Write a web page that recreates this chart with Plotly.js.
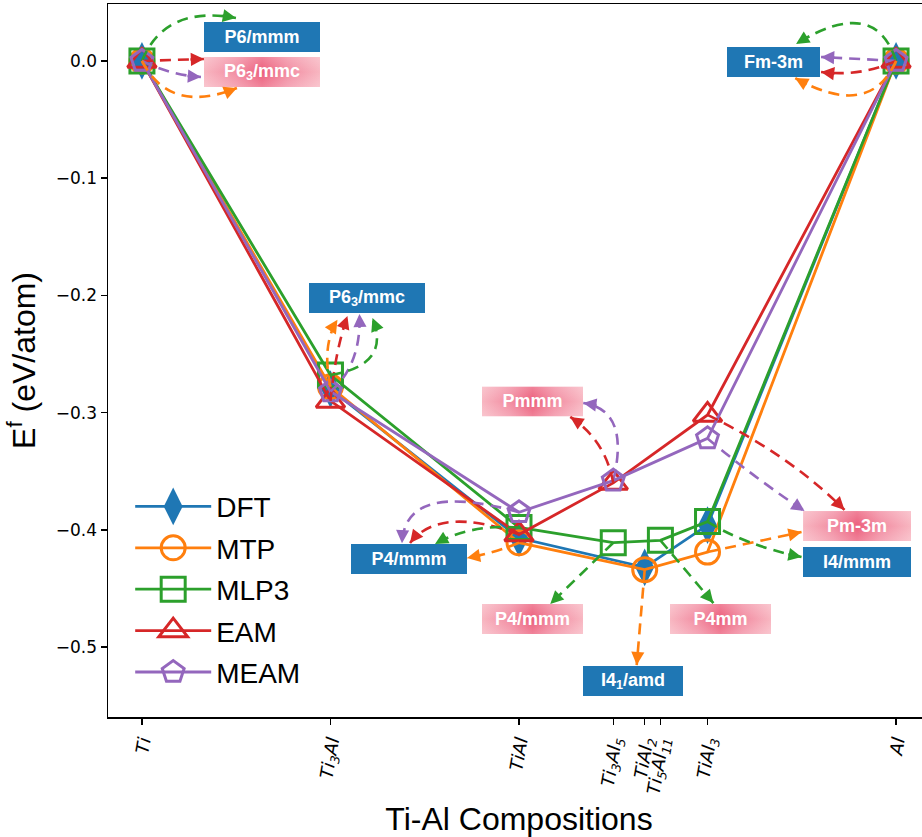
<!DOCTYPE html>
<html>
<head>
<meta charset="utf-8">
<script src="https://cdn.plot.ly/plotly-3.0.1.min.js"></script>
<style>html,body{margin:0;padding:0;overflow:hidden;background:#fff}</style>
</head>
<body>
<div id="chart"></div>
<script>
// Ti-Al phases, placed on the axis by their Al atomic fraction
const compNames = ['Ti', 'Ti3Al', 'TiAl', 'Ti3Al5', 'TiAl2', 'Ti5Al11', 'TiAl3', 'Al'];
const compFrac  = [0, 0.25, 0.5, 0.625, 0.6667, 0.6875, 0.75, 1];
const compTicks = ['<i>Ti</i>', '<i>Ti<sub>3</sub>Al</i>', '<i>TiAl</i>', '<i>Ti<sub>3</sub>Al<sub>5</sub></i>',
                   '<i>TiAl<sub>2</sub></i>', '<i>Ti<sub>5</sub>Al<sub>11</sub></i>', '<i>TiAl<sub>3</sub></i>', '<i>Al</i>'];

// Formation energies (eV/atom) of each method
const dftPhases  = ['Ti', 'Ti3Al', 'TiAl', 'TiAl2', 'TiAl3', 'Al'];
const dftEnergy  = [0, -0.280, -0.407, -0.432, -0.396, 0];
const mtpPhases  = ['Ti', 'Ti3Al', 'TiAl', 'TiAl2', 'TiAl3', 'Al'];
const mtpEnergy  = [0, -0.278, -0.411, -0.434, -0.419, 0];
const mlp3Phases = ['Ti', 'Ti3Al', 'TiAl', 'Ti3Al5', 'Ti5Al11', 'TiAl3', 'Al'];
const mlp3Energy = [0, -0.268, -0.398, -0.411, -0.409, -0.393, 0];
const eamPhases  = ['Ti', 'Ti3Al', 'TiAl', 'Ti3Al5', 'TiAl3', 'Al'];
const eamEnergy  = [0, -0.290, -0.404, -0.360, -0.302, 0];
const meamPhases = ['Ti', 'Ti3Al', 'TiAl', 'Ti3Al5', 'TiAl3', 'Al'];
const meamEnergy = [0, -0.282, -0.385, -0.358, -0.322, 0];

// Space-group labels
const sgText  = ['P6/mmm', 'P6<sub>3</sub>/mmc', 'Fm-3m', 'P6<sub>3</sub>/mmc', 'P4/mmm', 'Pmmm',
                 'P4/mmm', 'P4mm', 'I4<sub>1</sub>/amd', 'Pm-3m', 'I4/mmm'];
const sgX     = [0.1592, 0.1592, 0.8375, 0.2984, 0.3541, 0.5179, 0.5179, 0.7672, 0.6512, 0.9483, 0.9483];
const sgY     = [0.0205, -0.0094, -0.0009, -0.2022, -0.4253, -0.2905, -0.4761, -0.4761, -0.5294, -0.3968, -0.4275];
const sgStyle = ['blue', 'pink', 'blue', 'blue', 'blue', 'pink', 'pink', 'pink', 'blue', 'pink', 'blue'];
const sgWidth = [116, 116, 93, 116, 116, 101, 101, 101, 100, 108, 108];

// Dashed arrows from a method's point to its predicted structure (pixel offsets from the point)
const arrows = [
  {m: 'MLP3', at: 'Ti', tip: [94, -43], ctrl: [23, -56]},
  {m: 'EAM',  at: 'Ti', tip: [62, -2]},
  {m: 'MEAM', at: 'Ti', tip: [59, 16], ctrl: [28, 14]},
  {m: 'MTP',  at: 'Ti', tip: [95, 27], ctrl: [28, 54]},
  {m: 'MLP3', at: 'Al', tip: [-100, -17], ctrl: [-21, -66]},
  {m: 'MEAM', at: 'Al', tip: [-75, -4]},
  {m: 'EAM',  at: 'Al', tip: [-75, 11], ctrl: [-36, 16]},
  {m: 'MTP',  at: 'Al', tip: [-101, 17], ctrl: [-26, 59]},
  {m: 'MTP',  at: 'Ti3Al', tip: [7, -67], ctrl: [-9, -42]},
  {m: 'EAM',  at: 'Ti3Al', tip: [17, -85], ctrl: [5, -51]},
  {m: 'MEAM', at: 'Ti3Al', tip: [29, -77.5], ctrl: [31, -26.5]},
  {m: 'MLP3', at: 'Ti3Al', tip: [42, -57], ctrl: [61, -10]},
  {m: 'MEAM', at: 'TiAl', tip: [-117, 31], ctrl: [-114, -32]},
  {m: 'EAM',  at: 'TiAl', tip: [-109, 8.5], ctrl: [-79, -29.5]},
  {m: 'MLP3', at: 'TiAl', tip: [-84, 16.5], ctrl: [-49, -3.5]},
  {m: 'MTP',  at: 'TiAl', tip: [-52, 15.3], ctrl: [-24, 10]},
  {m: 'MEAM', at: 'Ti3Al5', tip: [-30, -77.6], ctrl: [17, -70.6]},
  {m: 'EAM',  at: 'Ti3Al5', tip: [-43, -66], ctrl: [-8, -43]},
  {m: 'MLP3', at: 'Ti3Al5', tip: [-63, 61.3]},
  {m: 'MTP',  at: 'TiAl2', tip: [-8, 95.4]},
  {m: 'MLP3', at: 'Ti5Al11', tip: [53, 62.7]},
  {m: 'EAM',  at: 'TiAl3', tip: [137, 95], ctrl: [82, 40]},
  {m: 'MEAM', at: 'TiAl3', tip: [97, 72.6], ctrl: [47, 39.6]},
  {m: 'MTP',  at: 'TiAl3', tip: [94, -20]},
  {m: 'MLP3', at: 'TiAl3', tip: [94, 35.4], ctrl: [37, 23.4]}
];

const methods = {
  DFT:  {phases: dftPhases,  energy: dftEnergy,  color: '#1f77b4', symbol: 'diamond-tall', size: 27},
  MTP:  {phases: mtpPhases,  energy: mtpEnergy,  color: '#ff7f0e', symbol: 'circle-open', size: 24},
  MLP3: {phases: mlp3Phases, energy: mlp3Energy, color: '#2ca02c', symbol: 'square-open', size: 24},
  EAM:  {phases: eamPhases,  energy: eamEnergy,  color: '#d62728', symbol: 'triangle-up-open', size: 25},
  MEAM: {phases: meamPhases, energy: meamEnergy, color: '#9467bd', symbol: 'pentagon-open', size: 23}
};
const order = ['DFT', 'MTP', 'MLP3', 'EAM', 'MEAM'];

const W = 940, H = 837;
const margin = {l: 108, r: 10, t: 4, b: 120};
const xRange = [-0.045, 1.045];
const yRange = [-0.5597, 0.0486];
const pxPerX = (W - margin.l - margin.r) / (xRange[1] - xRange[0]);
const pxPerY = (H - margin.t - margin.b) / (yRange[1] - yRange[0]);
const fracOf = name => compFrac[compNames.indexOf(name)];

const traces = order.map((k, i) => {
  const s = methods[k];
  return {
    type: 'scatter', mode: 'lines+markers', name: k, legendgroup: 'g' + i,
    x: s.phases.map(fracOf), y: s.energy,
    line: {color: s.color, width: 2.8},
    marker: {symbol: s.symbol, size: s.size, color: s.color,
             line: {color: s.color, width: s.symbol === 'diamond-tall' ? 0 : 3}},
    hoverinfo: 'skip'
  };
});

const shapes = [];
const annotations = [];

// pink label fill: light edges, deeper pink through the middle
const pinkFill = 'data:image/svg+xml;charset=utf-8,' + encodeURIComponent(
  '<svg xmlns="http://www.w3.org/2000/svg" width="100" height="30" viewBox="0 0 100 30" preserveAspectRatio="none">' +
  '<defs>' +
  '<linearGradient id="h" x1="0" y1="0" x2="1" y2="0">' +
  '<stop offset="0" stop-color="#f8b6c1"/><stop offset="0.28" stop-color="#f28da2"/>' +
  '<stop offset="0.5" stop-color="#ec5f7c"/><stop offset="0.72" stop-color="#f28da2"/>' +
  '<stop offset="1" stop-color="#f8b6c1"/>' +
  '</linearGradient>' +
  '<linearGradient id="v" x1="0" y1="0" x2="0" y2="1">' +
  '<stop offset="0" stop-color="#fff" stop-opacity="0.22"/><stop offset="0.5" stop-color="#fff" stop-opacity="0"/>' +
  '<stop offset="1" stop-color="#fff" stop-opacity="0.22"/>' +
  '</linearGradient></defs>' +
  '<rect width="100" height="30" fill="url(#h)"/><rect width="100" height="30" fill="url(#v)"/></svg>');
const images = [];
sgText.forEach((t, i) => {
  const pink = sgStyle[i] === 'pink';
  annotations.push({
    x: sgX[i], y: sgY[i], xref: 'x', yref: 'y', showarrow: false,
    text: '<b>' + t + '</b>', width: sgWidth[i], height: 30, borderpad: 0, borderwidth: 0,
    bgcolor: pink ? 'rgba(0,0,0,0)' : '#1f77b4',
    font: {family: 'Liberation Sans, Arial, sans-serif', size: 18, color: '#ffffff'},
    xanchor: 'center', yanchor: 'middle', align: 'center', valign: 'middle'
  });
  if (pink) {
    images.push({
      source: pinkFill, xref: 'x', yref: 'y', x: sgX[i], y: sgY[i],
      sizex: sgWidth[i] / pxPerX, sizey: 30 / pxPerY, sizing: 'stretch',
      xanchor: 'center', yanchor: 'middle', layer: 'above'
    });
  }
});

// dashed arrows with filled heads
arrows.forEach(a => {
  const s = methods[a.m];
  const x0 = fracOf(a.at);
  const y0 = s.energy[s.phases.indexOf(a.at)];
  const toX = dx => x0 + dx / pxPerX;
  const toY = dy => y0 - dy / pxPerY;
  const tx = toX(a.tip[0]), ty = toY(a.tip[1]);
  let path, dir;
  if (a.ctrl) {
    path = `M${x0},${y0} Q${toX(a.ctrl[0])},${toY(a.ctrl[1])} ${tx},${ty}`;
    dir = [a.tip[0] - a.ctrl[0], a.tip[1] - a.ctrl[1]];
  } else {
    path = `M${x0},${y0} L${tx},${ty}`;
    dir = [a.tip[0], a.tip[1]];
  }
  shapes.push({type: 'path', xref: 'x', yref: 'y', path: path,
               line: {color: s.color, width: 2.6, dash: '11px,7px'}, layer: 'above'});
  const n = Math.hypot(dir[0], dir[1]);
  const L = 15;
  annotations.push({
    x: tx, y: ty, xref: 'x', yref: 'y', text: ' ', showarrow: true,
    ax: -dir[0] / n * L, ay: -dir[1] / n * L,
    arrowhead: 2, arrowsize: 1.05, arrowwidth: 2.5, arrowcolor: s.color, standoff: 0,
    font: {size: 1}
  });
});

const axisLine = {showline: true, linecolor: '#000', linewidth: 1.5, mirror: true,
                  ticks: 'outside', ticklen: 6, tickwidth: 1.5, tickcolor: '#000',
                  showgrid: false, zeroline: false};

const layout = {
  width: W, height: H, margin: margin,
  paper_bgcolor: '#fff', plot_bgcolor: '#fff',
  hovermode: false,
  xaxis: Object.assign({}, axisLine, {
    range: xRange, tickmode: 'array', tickvals: compFrac, ticktext: compTicks, tickangle: -80,
    tickfont: {family: 'DejaVu Sans, sans-serif', size: 18, color: '#000'},
    title: {text: 'Ti-Al Compositions', standoff: 14,
            font: {family: 'Liberation Sans, Arial, sans-serif', size: 32, color: '#000'}}
  }),
  yaxis: Object.assign({}, axisLine, {
    range: yRange, tick0: 0, dtick: 0.1, tickformat: '.1f',
    tickfont: {family: 'DejaVu Sans, sans-serif', size: 17, color: '#000'},
    title: {text: 'E<sup>f</sup> (eV/atom)', standoff: 10,
            font: {family: 'Liberation Sans, Arial, sans-serif', size: 32, color: '#000'}}
  }),
  showlegend: true,
  legend: {x: 0.027, y: 0.33, xanchor: 'left', yanchor: 'top', bgcolor: 'rgba(0,0,0,0)',
           borderwidth: 0, itemwidth: 76, tracegroupgap: 2, traceorder: 'grouped',
           font: {family: 'Liberation Sans, Arial, sans-serif', size: 28, color: '#000'}},
  shapes: shapes, annotations: annotations, images: images
};

const gd = document.getElementById('chart');
Plotly.newPlot(gd, traces, layout, {displayModeBar: false, staticPlot: true}).then(() => {
  // enlarge the legend glyphs to the plotted marker size
  gd.querySelectorAll('.legend .traces').forEach((tr, i) => {
    const k = order[i];
    if (!k) return;
    const f = methods[k].size / 16;
    tr.querySelectorAll('.legendpoints path.scatterpts').forEach(p => {
      const t = p.getAttribute('transform') || '';
      p.setAttribute('transform', t + ' scale(' + f + ')');
      p.style.vectorEffect = 'non-scaling-stroke';
      if (k !== 'DFT') p.style.strokeWidth = '3px';
    });
  });
});
</script>
</body>
</html>
